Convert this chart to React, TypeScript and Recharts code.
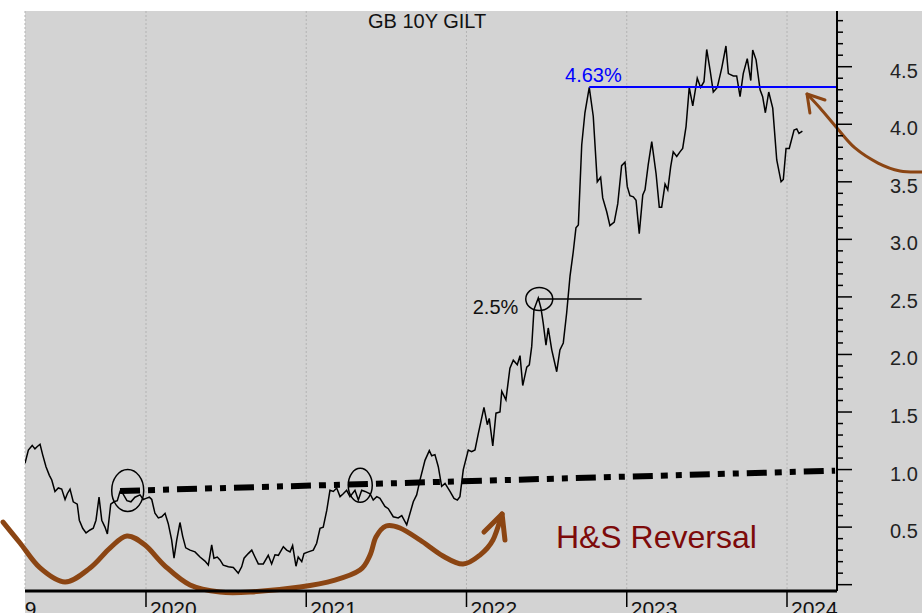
import React from 'react';
import { LineChart, Line, XAxis, YAxis, CartesianGrid, ReferenceLine, Customized } from 'recharts';

// ---- data (decimal year, yield %) ----
const dates = [
  2019.245, 2019.266, 2019.290, 2019.307, 2019.322, 2019.339, 2019.355, 2019.376, 2019.397, 2019.412,
  2019.432, 2019.453, 2019.474, 2019.495, 2019.509, 2019.526, 2019.546, 2019.571, 2019.584, 2019.605,
  2019.626, 2019.651, 2019.671, 2019.688, 2019.707, 2019.724, 2019.744, 2019.759, 2019.780, 2019.800,
  2019.821, 2019.838, 2019.856, 2019.881, 2019.906, 2019.931, 2019.963, 2019.983, 2020.000, 2020.021,
  2020.036, 2020.056, 2020.077, 2020.098, 2020.119, 2020.139, 2020.160, 2020.175, 2020.192, 2020.212,
  2020.229, 2020.248, 2020.275, 2020.306, 2020.337, 2020.368, 2020.389, 2020.410, 2020.424, 2020.445,
  2020.462, 2020.482, 2020.514, 2020.545, 2020.576, 2020.597, 2020.612, 2020.638, 2020.660, 2020.680,
  2020.701, 2020.732, 2020.763, 2020.784, 2020.805, 2020.826, 2020.857, 2020.878, 2020.899, 2020.915,
  2020.936, 2020.950, 2020.972, 2020.986, 2021.013, 2021.044, 2021.065, 2021.086, 2021.106, 2021.128,
  2021.148, 2021.169, 2021.190, 2021.211, 2021.231, 2021.252, 2021.273, 2021.304, 2021.325, 2021.346,
  2021.367, 2021.398, 2021.418, 2021.440, 2021.460, 2021.491, 2021.512, 2021.543, 2021.574, 2021.596,
  2021.627, 2021.668, 2021.689, 2021.710, 2021.741, 2021.768, 2021.783, 2021.803, 2021.824, 2021.845,
  2021.866, 2021.897, 2021.922, 2021.943, 2021.959, 2021.980, 2022.011, 2022.032, 2022.053, 2022.074,
  2022.109, 2022.130, 2022.142, 2022.164, 2022.184, 2022.209, 2022.220, 2022.246, 2022.271, 2022.292,
  2022.317, 2022.334, 2022.351, 2022.376, 2022.392, 2022.407, 2022.421, 2022.448, 2022.465, 2022.479,
  2022.496, 2022.510, 2022.532, 2022.563, 2022.583, 2022.604, 2022.625, 2022.646, 2022.666, 2022.683,
  2022.698, 2022.719, 2022.739, 2022.766, 2022.791, 2022.816, 2022.837, 2022.850, 2022.875, 2022.895,
  2022.922, 2022.944, 2022.968, 2022.989, 2023.003, 2023.020, 2023.041, 2023.058, 2023.078, 2023.100,
  2023.114, 2023.134, 2023.156, 2023.183, 2023.203, 2023.218, 2023.239, 2023.256, 2023.274, 2023.290,
  2023.312, 2023.332, 2023.349, 2023.370, 2023.390, 2023.412, 2023.440, 2023.461, 2023.482, 2023.499,
  2023.520, 2023.540, 2023.565, 2023.593, 2023.619, 2023.634, 2023.665, 2023.686, 2023.707, 2023.727,
  2023.752, 2023.774, 2023.786, 2023.807, 2023.832, 2023.848, 2023.865, 2023.886, 2023.911, 2023.936,
  2023.963, 2023.977, 2023.994, 2024.014, 2024.044, 2024.061, 2024.075, 2024.096,
];

const yields = [
  1.055, 1.17, 1.21, 1.18, 1.20, 1.22, 1.13, 1.025, 0.95, 0.91,
  0.81, 0.84, 0.83, 0.74, 0.79, 0.83, 0.72, 0.70, 0.56, 0.49,
  0.45, 0.475, 0.49, 0.56, 0.76, 0.56, 0.50, 0.44, 0.70, 0.72,
  0.73, 0.81, 0.79, 0.73, 0.72, 0.76, 0.78, 0.74, 0.75, 0.76,
  0.74, 0.62, 0.58, 0.59, 0.62, 0.53, 0.39, 0.23, 0.39, 0.54,
  0.42, 0.32, 0.30, 0.285, 0.24, 0.205, 0.17, 0.345, 0.23, 0.24,
  0.215, 0.17, 0.155, 0.15, 0.10, 0.155, 0.23, 0.27, 0.30, 0.24,
  0.18, 0.18, 0.255, 0.18, 0.26, 0.255, 0.33, 0.30, 0.285, 0.34,
  0.16, 0.24, 0.20, 0.27, 0.285, 0.30, 0.36, 0.49, 0.50, 0.645,
  0.82, 0.81, 0.84, 0.765, 0.79, 0.82, 0.765, 0.82, 0.735, 0.82,
  0.81, 0.79, 0.735, 0.765, 0.75, 0.68, 0.66, 0.59, 0.58, 0.60,
  0.52, 0.72, 0.78, 0.91, 1.08, 1.165, 1.12, 1.13, 1.025, 0.855,
  0.88, 0.81, 0.75, 0.735, 0.765, 1.0, 1.17, 1.155, 1.17, 1.315,
  1.54, 1.39, 1.445, 1.205, 1.49, 1.50, 1.68, 1.605, 1.88, 1.95,
  1.91, 1.99, 1.73, 1.89, 1.91, 2.07, 2.39, 2.49, 2.40, 2.27,
  2.08, 2.23, 2.04, 1.85, 2.04, 2.10, 2.36, 2.68, 2.89, 3.10,
  3.125, 3.82, 4.10, 4.32, 4.07, 3.50, 3.54, 3.36, 3.24, 3.12,
  3.15, 3.31, 3.64, 3.67, 3.46, 3.38, 3.37, 3.34, 3.05, 3.385,
  3.43, 3.65, 3.85, 3.57, 3.28, 3.28, 3.48, 3.43, 3.63, 3.76,
  3.72, 3.76, 3.79, 3.98, 4.32, 4.16, 4.40, 4.32, 4.37, 4.65,
  4.47, 4.28, 4.32, 4.49, 4.68, 4.44, 4.42, 4.42, 4.24, 4.44,
  4.57, 4.38, 4.645, 4.56, 4.30, 4.24, 4.10, 4.28, 4.14, 3.69,
  3.50, 3.52, 3.79, 3.79, 3.95, 3.96, 3.92, 3.94,
];

const yearTicks = [2020, 2021, 2022, 2023, 2024];
const yTicks = [
  0, 0.1, 0.2, 0.3, 0.4, 0.5, 0.6, 0.7, 0.8, 0.9,
  1.0, 1.1, 1.2, 1.3, 1.4, 1.5, 1.6, 1.7, 1.8, 1.9,
  2.0, 2.1, 2.2, 2.3, 2.4, 2.5, 2.6, 2.7, 2.8, 2.9,
  3.0, 3.1, 3.2, 3.3, 3.4, 3.5, 3.6, 3.7, 3.8, 3.9,
  4.0, 4.1, 4.2, 4.3, 4.4, 4.5, 4.6, 4.7, 4.8, 4.9,
];

// annotation anchors (decimal year, yield)
const peakLevel = { t: 2022.766, v: 4.324, label: '4.63%' };
const midLevel = { t0: 2022.448, t1: 2023.093, v: 2.482, label: '2.5%' };
const necklineStart = { t: 2019.838, v: 0.814 };
const necklineEnd = { t: 2024.30, v: 0.99 };
const circles = [
  { t: 2019.886, v: 0.818, rx: 16, ry: 21 },
  { t: 2021.337, v: 0.863, rx: 12, ry: 17 },
  { t: 2022.454, v: 2.482, rx: 13.5, ry: 11.5 },
];
const hsCurve: [number, number][] = [
  [2019.108, 0.544], [2019.214, 0.362], [2019.339, 0.145], [2019.495, 0.023], [2019.651, 0.145],
  [2019.775, 0.318], [2019.881, 0.423], [2019.994, 0.344], [2020.119, 0.162], [2020.275, -0.003],
  [2020.462, -0.064], [2020.649, -0.064], [2020.961, -0.020], [2021.179, 0.040], [2021.335, 0.127],
  [2021.398, 0.257], [2021.435, 0.414], [2021.498, 0.510], [2021.585, 0.492], [2021.710, 0.388],
  [2021.853, 0.249], [2021.978, 0.179], [2022.084, 0.257], [2022.165, 0.388], [2022.222, 0.614],
];
const hsBarbs: [number, number][] = [[2022.109, 0.457], [2022.240, 0.388]];
const rightCurve: [number, number][] = [
  [2024.125, 4.263], [2024.206, 4.141], [2024.312, 3.967], [2024.424, 3.794], [2024.568, 3.663],
  [2024.705, 3.594], [2024.842, 3.585], [2025.017, 3.602],
];
const rightBarbs: [number, number][] = [[2024.237, 4.211], [2024.143, 4.098]];
const hsText = { t: 2022.558, v: 0.318, label: 'H&S Reversal' };
const peakText = { t: 2022.615, v: 4.367 };
const midText = { t: 2022.039, v: 2.351 };

const rows = dates.map((t, i) => ({ t, v: yields[i] }));

// ---- layout ----
const W = 922;
const H = 613;
const Y_AXIS_W = 85;
const X_AXIS_H = 22;
const PL = 25;
const PT = 11;
const PR = W - Y_AXIS_W;
const PB = H - X_AXIS_H;
const X0 = 2019.245;
const X1 = 2024.312;
const Y0 = -0.055;
const Y1 = 4.984;
const FONT = "'Liberation Sans', Arial, Helvetica, sans-serif";

const sx = (t: number) => PL + ((t - X0) / (X1 - X0)) * (PR - PL);
const sy = (v: number) => PT + ((Y1 - v) / (Y1 - Y0)) * (PB - PT);

function smoothPath(pts: [number, number][]) {
  const p = pts.map(([t, v]) => [sx(t), sy(v)]);
  let d = `M${p[0][0]},${p[0][1]}`;
  for (let i = 0; i < p.length - 1; i++) {
    const p0 = p[i - 1] || p[i];
    const p1 = p[i];
    const p2 = p[i + 1];
    const p3 = p[i + 2] || p2;
    const c1x = p1[0] + (p2[0] - p0[0]) / 6;
    const c1y = p1[1] + (p2[1] - p0[1]) / 6;
    const c2x = p2[0] - (p3[0] - p1[0]) / 6;
    const c2y = p2[1] - (p3[1] - p1[1]) / 6;
    d += ` C${c1x},${c1y} ${c2x},${c2y} ${p2[0]},${p2[1]}`;
  }
  return d;
}

function arrowHead(tip: [number, number], barbs: [number, number][]) {
  const tx = sx(tip[0]);
  const ty = sy(tip[1]);
  return barbs.map((b) => `M${sx(b[0])},${sy(b[1])} L${tx},${ty}`).join(' ');
}

const XTick = (props: any) => {
  const { x, payload } = props;
  return (
    <g>
      <line x1={x} x2={x} y1={PB} y2={PB + 16} stroke="#000" strokeWidth={1.5} />
      <text x={x + 4} y={616} fontSize={21} fill="#111" fontFamily={FONT}>
        {payload.value}
      </text>
    </g>
  );
};

const YTick = (props: any) => {
  const { y, payload } = props;
  const v = payload.value as number;
  const major = Math.abs(v * 2 - Math.round(v * 2)) < 1e-6;
  const len = major ? 15 : 6;
  return (
    <g>
      <line x1={PR} x2={PR + len} y1={y} y2={y} stroke="#000" strokeWidth={1.5} />
      {major && v > 0.01 ? (
        <text x={890} y={y + 11} fontSize={20} fill="#222" fontFamily={FONT}>
          {v.toFixed(1)}
        </text>
      ) : null}
    </g>
  );
};

const Overlay = () => {
  const hsTip = hsCurve[hsCurve.length - 1];
  const rTip = rightCurve[0];
  return (
    <g>
      <defs>
        <clipPath id="leftMask">
          <rect x={PL} y={0} width={W - PL} height={H} />
        </clipPath>
      </defs>
      <text x={sx(2019) + 4} y={616} fontSize={21} fill="#111" fontFamily={FONT} clipPath="url(#leftMask)">
        2019
      </text>
      <text x={368} y={28} fontSize={20} fill="#111" fontFamily={FONT}>
        GB 10Y GILT
      </text>
      {circles.map((c, i) => (
        <ellipse key={i} cx={sx(c.t)} cy={sy(c.v)} rx={c.rx} ry={c.ry} fill="none" stroke="#000" strokeWidth={1.5} />
      ))}
      <text x={sx(peakText.t)} y={sy(peakText.v)} fontSize={20} fill="#0000ff" fontFamily={FONT}>
        {peakLevel.label}
      </text>
      <text x={sx(midText.t)} y={sy(midText.v)} fontSize={20} fill="#111" fontFamily={FONT}>
        {midLevel.label}
      </text>
      <text x={sx(hsText.t)} y={sy(hsText.v)} fontSize={32} fill="#7d0a0a" fontFamily={FONT}>
        {hsText.label}
      </text>
      <path d={smoothPath(hsCurve)} fill="none" stroke="#8b4513" strokeWidth={5} strokeLinecap="round" strokeLinejoin="round" />
      <path d={arrowHead(hsTip, hsBarbs)} fill="none" stroke="#8b4513" strokeWidth={5} strokeLinecap="round" />
      <path d={smoothPath(rightCurve)} fill="none" stroke="#8b4513" strokeWidth={3} strokeLinecap="round" />
      <path d={arrowHead(rTip, rightBarbs)} fill="none" stroke="#8b4513" strokeWidth={3} strokeLinecap="round" />
    </g>
  );
};

export default function App() {
  return (
    <div style={{ position: 'absolute', left: 0, top: 0, width: W, height: H, background: '#fff', overflow: 'hidden' }}>
      <div style={{ position: 'absolute', left: PL, top: PT, width: W - PL, height: H - PT, background: '#d3d3d3' }} />
      <div style={{ position: 'absolute', left: 0, top: 0 }}>
        <LineChart width={W} height={H} data={rows} margin={{ top: PT, right: 0, bottom: 0, left: PL }}>
          <CartesianGrid horizontal={false} vertical stroke="#b4b4b4" strokeDasharray="2 2" />
          <XAxis
            dataKey="t"
            type="number"
            domain={[X0, X1]}
            allowDataOverflow
            ticks={yearTicks}
            interval={0}
            height={X_AXIS_H}
            tick={<XTick />}
            tickLine={false}
            axisLine={{ stroke: '#000', strokeWidth: 3 }}
          />
          <YAxis
            orientation="right"
            type="number"
            domain={[Y0, Y1]}
            allowDataOverflow
            ticks={yTicks}
            interval={0}
            width={Y_AXIS_W}
            tick={<YTick />}
            tickLine={false}
            axisLine={{ stroke: '#000', strokeWidth: 2 }}
          />
          <Line
            dataKey="v"
            type="linear"
            stroke="#000"
            strokeWidth={1.5}
            dot={false}
            activeDot={false}
            isAnimationActive={false}
          />
          <ReferenceLine
            segment={[{ x: peakLevel.t, y: peakLevel.v }, { x: X1, y: peakLevel.v }]}
            stroke="#0000ff"
            strokeWidth={2}
          />
          <ReferenceLine
            segment={[{ x: midLevel.t0, y: midLevel.v }, { x: midLevel.t1, y: midLevel.v }]}
            stroke="#000"
            strokeWidth={1.5}
          />
          <ReferenceLine
            segment={[{ x: necklineStart.t, y: necklineStart.v }, { x: necklineEnd.t, y: necklineEnd.v }]}
            stroke="#000"
            strokeWidth={6}
            strokeDasharray="20 8 7 8 6 8"
          />
          <Customized component={<Overlay />} />
        </LineChart>
      </div>
    </div>
  );
}
